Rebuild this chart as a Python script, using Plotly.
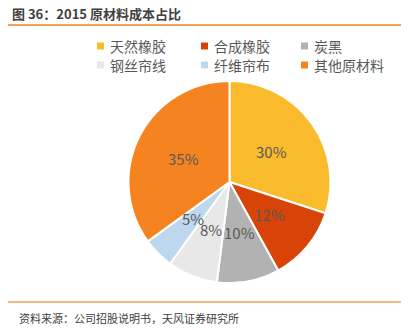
import math
import plotly.graph_objects as go

# 2015 raw material cost breakdown
labels = ["天然橡胶", "合成橡胶", "炭黑", "钢丝帘线", "纤维帘布", "其他原材料"]
values = [30, 12, 10, 8, 5, 35]
colors = ["#F9BA2B", "#D84307", "#B2B2B2", "#E8E8E8", "#BDD7EE", "#F58420"]

W, H = 413, 330
FONT = "Noto Sans CJK SC"

# Pie geometry in pixels
CX, CY, R = 229.5, 182, 101
LABEL_R = 0.51  # data labels sit about halfway out along each slice

fig = go.Figure()
fig.add_trace(go.Pie(
    labels=labels,
    values=values,
    sort=False,
    direction="clockwise",
    rotation=0,
    marker=dict(colors=colors, line=dict(color="white", width=2)),
    textinfo="none",
    domain=dict(x=[(CX - R) / W, (CX + R) / W], y=[1 - (CY + R) / H, 1 - (CY - R) / H]),
    showlegend=False,
    hoverinfo="label+percent",
))

shapes = []
annotations = []

# Percentage labels at the middle angle of each slice
total = sum(values)
cum = 0
for v in values:
    mid = (cum + v / 2) / total * 2 * math.pi
    cum += v
    px = CX + LABEL_R * R * math.sin(mid)
    py = CY - LABEL_R * R * math.cos(mid)
    annotations.append(dict(
        x=px / W, y=1 - py / H, xref="paper", yref="paper",
        xanchor="center", yanchor="middle", showarrow=False,
        text=f"{round(v / total * 100)}%",
        font=dict(family=FONT, size=15, color="#595959"),
    ))

# Title and rule lines
annotations.append(dict(
    x=10 / W, y=1 - 13 / H, xref="paper", yref="paper", xanchor="left", yanchor="middle",
    text="<b>图 36：2015 原材料成本占比</b>", showarrow=False,
    font=dict(family=FONT, size=13, color="#404040"),
))
shapes.append(dict(type="line", xref="paper", yref="paper",
                   x0=8 / W, x1=401 / W, y0=1 - 25 / H, y1=1 - 25 / H,
                   line=dict(color="#F4A15C", width=2)))
shapes.append(dict(type="line", xref="paper", yref="paper",
                   x0=8 / W, x1=401 / W, y0=1 - 302 / H, y1=1 - 302 / H,
                   line=dict(color="#F4A15C", width=1.5)))
annotations.append(dict(
    x=17 / W, y=1 - 318 / H, xref="paper", yref="paper", xanchor="left", yanchor="middle",
    text="资料来源：公司招股说明书，天风证券研究所", showarrow=False,
    font=dict(family=FONT, size=11, color="#404040"),
))

# Legend: two rows of three entries
col_x = [97, 201, 301]
row_y = [46, 65]
for i, (lab, col) in enumerate(zip(labels, colors)):
    cx = col_x[i % 3]
    cy = row_y[i // 3]
    shapes.append(dict(type="rect", xref="paper", yref="paper",
                       x0=cx / W, x1=(cx + 7) / W,
                       y0=1 - (cy + 3.5) / H, y1=1 - (cy - 3.5) / H,
                       fillcolor=col, line=dict(width=0)))
    annotations.append(dict(
        x=(cx + 11) / W, y=1 - cy / H, xref="paper", yref="paper",
        xanchor="left", yanchor="middle", text=lab, showarrow=False,
        font=dict(family=FONT, size=14, color="#595959"),
    ))

fig.update_layout(
    width=W, height=H,
    margin=dict(l=0, r=0, t=0, b=0),
    paper_bgcolor="white",
    plot_bgcolor="white",
    shapes=shapes,
    annotations=annotations,
)

fig.write_html("out.html")
